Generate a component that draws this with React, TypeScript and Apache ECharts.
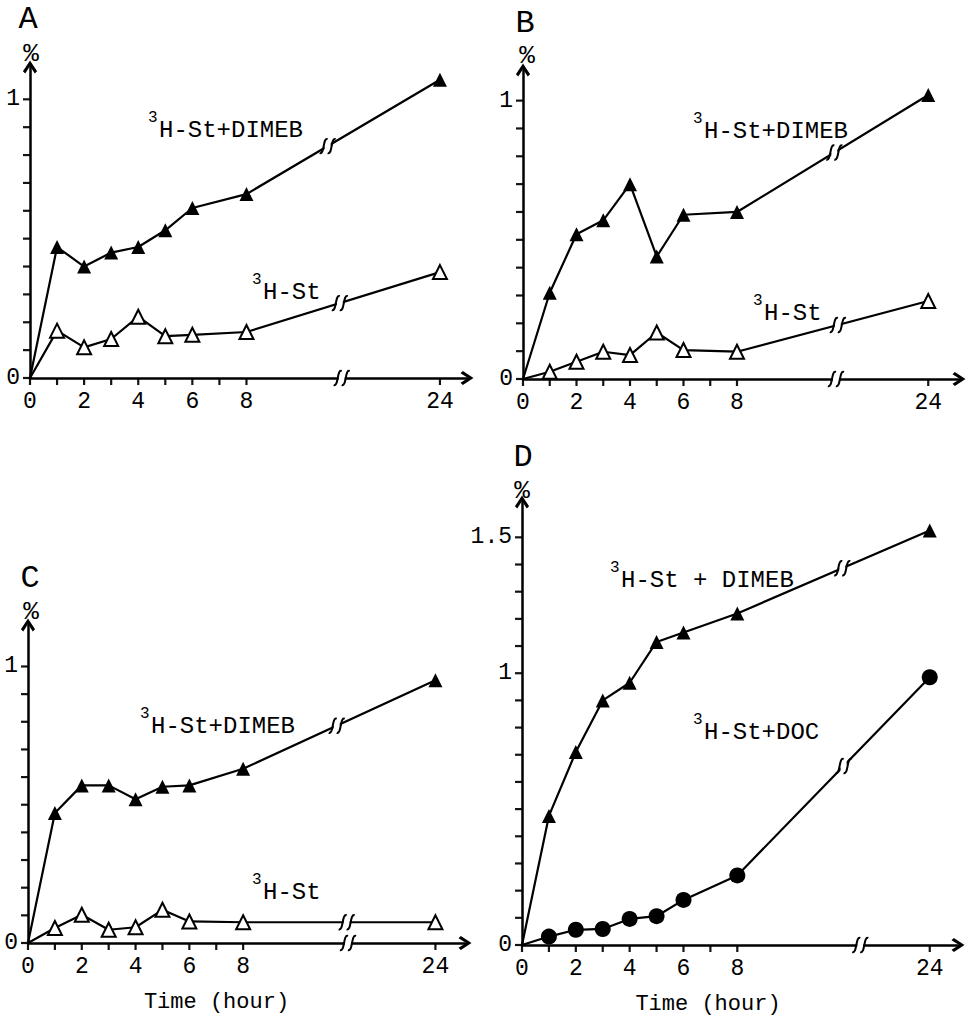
import React, { useEffect, useRef } from "react";
import * as echarts from "echarts";

// ---- data ----
const HOURS = [0, 1, 2, 3, 4, 5, 6, 8, 24];
const X_TICK_HOURS = [0, 1, 2, 3, 4, 5, 6, 7, 8, 24];
const X_LABEL_HOURS = [0, 2, 4, 6, 8, 24];
const Y_TICKS_1 = [0, 0.1, 0.2, 0.3, 0.4, 0.5, 0.6, 0.7, 0.8, 0.9, 1];
const Y_TICKS_15 = [0, 0.1, 0.2, 0.3, 0.4, 0.5, 0.6, 0.7, 0.8, 0.9, 1, 1.1, 1.2, 1.3, 1.4, 1.5];
const Y_LABELS_1 = [0, 1];
const Y_LABELS_15 = [0, 1, 1.5];

const A_DIMEB = [0, 0.47, 0.4, 0.45, 0.47, 0.53, 0.61, 0.66, 1.07];
const A_ST = [0, 0.17, 0.11, 0.14, 0.22, 0.15, 0.155, 0.165, 0.38];
const B_DIMEB = [0, 0.31, 0.52, 0.57, 0.7, 0.44, 0.59, 0.6, 1.02];
const B_ST = [0, 0.026, 0.062, 0.098, 0.086, 0.167, 0.104, 0.098, 0.28];
const C_DIMEB = [0, 0.47, 0.57, 0.57, 0.52, 0.565, 0.57, 0.63, 0.95];
const C_ST = [0, 0.054, 0.102, 0.048, 0.057, 0.12, 0.078, 0.075, 0.075];
const D_DIMEB = [0, 0.475, 0.71, 0.9, 0.965, 1.115, 1.15, 1.22, 1.525];
const D_DOC = [0, 0.031, 0.056, 0.059, 0.096, 0.106, 0.166, 0.256, 0.985];

// broken time axis: 0..8 h linear, 24 h placed after the break
const POS_24 = 15.15;
const hourPos = (h: number) => (h <= 8 ? h : POS_24);

const FONT = "'Liberation Mono', 'DejaVu Sans Mono', monospace";
const TICK_COLOR = "#141414";

type Marker = "filledTri" | "openTri" | "dot";
const MARKERS: Record<Marker, any> = {
  filledTri: { symbol: "triangle", symbolSize: 14, itemStyle: { color: "#000" } },
  openTri: { symbol: "triangle", symbolSize: 14, itemStyle: { color: "#fff", borderColor: "#000", borderWidth: 2 } },
  dot: { symbol: "circle", symbolSize: 16, itemStyle: { color: "#000" } },
};

const PANELS = [
  {
    letter: "A", letterPos: [28, 19], pctPos: [31, 54],
    grid: { left: 30, top: 67, width: 437, height: 311 },
    xMax: 16.15, yMax: 1.116, yTicks: Y_TICKS_1, yLabels: Y_LABELS_1, axisBreak: 11.52, timeTitle: false, namePad: 0,
    series: [
      { values: A_DIMEB, marker: "filledTri" as Marker, brk: 11.0, label: { x: 148, y: 130, text: "H-St+DIMEB" } },
      { values: A_ST, marker: "openTri" as Marker, brk: 11.45, label: { x: 252, y: 292, text: "H-St" } },
    ],
  },
  {
    letter: "B", letterPos: [525, 23], pctPos: [527, 56],
    grid: { left: 523, top: 70, width: 436, height: 309 },
    xMax: 16.3, yMax: 1.11, yTicks: Y_TICKS_1, yLabels: Y_LABELS_1, axisBreak: 11.7, timeTitle: false, namePad: 0,
    series: [
      { values: B_DIMEB, marker: "filledTri" as Marker, brk: 11.64, label: { x: 693, y: 131, text: "H-St+DIMEB" } },
      { values: B_ST, marker: "openTri" as Marker, brk: 11.77, label: { x: 753, y: 313, text: "H-St" } },
    ],
  },
  {
    letter: "C", letterPos: [30, 578], pctPos: [31, 612],
    grid: { left: 28, top: 625, width: 437, height: 318 },
    xMax: 16.25, yMax: 1.15, yTicks: Y_TICKS_1, yLabels: Y_LABELS_1, axisBreak: 11.9, timeTitle: true, namePad: 60,
    series: [
      { values: C_DIMEB, marker: "filledTri" as Marker, brk: 11.48, label: { x: 140, y: 726, text: "H-St+DIMEB" } },
      { values: C_ST, marker: "openTri" as Marker, brk: 11.85, label: { x: 252, y: 892, text: "H-St" } },
    ],
  },
  {
    letter: "D", letterPos: [523, 457], pctPos: [522, 491],
    grid: { left: 522, top: 502, width: 436, height: 443 },
    xMax: 16.2, yMax: 1.63, yTicks: Y_TICKS_15, yLabels: Y_LABELS_15, axisBreak: 12.57, timeTitle: true, namePad: 64,
    series: [
      { values: D_DIMEB, marker: "filledTri" as Marker, brk: 11.9, label: { x: 610, y: 580, text: "H-St + DIMEB" } },
      { values: D_DOC, marker: "dot" as Marker, brk: 11.95, label: { x: 693, y: 732, text: "H-St+DOC" } },
    ],
  },
];

const ARROW = "path://M6,0 L12,9 L10,11 L6,4.6 L2,11 L0,9 Z";

// "ʃʃ" break marks on the time axis and on the lines
function breakRender(params: any, api: any) {
  const p = api.coord([api.value(0), api.value(1)]);
  const cx = p[0];
  const cy = p[1];
  const stroke = (dx: number) => ({
    type: "bezierCurve",
    shape: {
      x1: cx + dx - 4, y1: cy + 7,
      cpx1: cx + dx + 1, cpy1: cy + 9,
      cpx2: cx + dx - 1, cpy2: cy - 9,
      x2: cx + dx + 4, y2: cy - 7,
    },
    style: { stroke: "#000", lineWidth: 2, fill: null },
  });
  return {
    type: "group",
    children: [
      { type: "rect", shape: { x: cx - 3, y: cy - 6, width: 6, height: 12 }, style: { fill: "#fff" } },
      stroke(-4),
      stroke(4),
    ],
  };
}

function buildOption() {
  const grid: any[] = [];
  const xAxis: any[] = [];
  const yAxis: any[] = [];
  const series: any[] = [];
  const graphic: any[] = [];

  PANELS.forEach((pn, gi) => {
    grid.push({ ...pn.grid, containLabel: false });
    xAxis.push({
      type: "value",
      gridIndex: gi,
      min: 0,
      max: pn.xMax,
      interval: 1,
      splitLine: { show: false },
      axisLine: { show: true, lineStyle: { color: "#000", width: 2.5 }, symbol: ["none", ARROW], symbolSize: [16, 13] },
      axisTick: { show: false },
      axisLabel: {
        show: true,
        customValues: X_LABEL_HOURS.map(hourPos),
        formatter: (v: number) => (v === POS_24 ? "24" : String(v)),
        color: "#000",
        fontFamily: FONT,
        fontSize: 23,
        margin: 12,
      },
      name: pn.timeTitle ? "Time (hour)" : "",
      nameLocation: "middle",
      nameGap: 48,
      nameTextStyle: { color: "#000", fontFamily: FONT, fontSize: 22, padding: [0, pn.namePad, 0, 0] },
    });
    yAxis.push({
      type: "value",
      gridIndex: gi,
      min: 0,
      max: pn.yMax,
      splitLine: { show: false },
      axisLine: { show: true, lineStyle: { color: "#000", width: 2.5 }, symbol: ["none", ARROW], symbolSize: [16, 13] },
      axisTick: { show: false },
      axisLabel: {
        show: true,
        customValues: pn.yLabels,
        formatter: (v: number) => (v === 1.5 ? "1.5" : String(v)),
        color: "#000",
        fontFamily: FONT,
        fontSize: 23,
        margin: 10,
      },
    });

    const breakData: number[][] = [[pn.axisBreak, 0]];
    pn.series.forEach((s) => {
      const m = MARKERS[s.marker];
      series.push({
        type: "line",
        name: "3" + s.label.text,
        xAxisIndex: gi,
        yAxisIndex: gi,
        symbol: m.symbol,
        symbolSize: m.symbolSize,
        itemStyle: m.itemStyle,
        lineStyle: { color: "#000", width: 2.2 },
        z: 2,
        data: HOURS.map((h, i) =>
          i === 0 ? { value: [hourPos(h), s.values[i]], symbol: "none" } : [hourPos(h), s.values[i]]
        ),
      });
      const v8 = s.values[7];
      const v24 = s.values[8];
      breakData.push([s.brk, v8 + ((v24 - v8) * (s.brk - 8)) / (POS_24 - 8)]);

      graphic.push({
        type: "text",
        x: s.label.x,
        y: s.label.y - 12,
        style: { text: "3", fontFamily: FONT, fontSize: 16, fill: "#000", align: "left", verticalAlign: "middle" },
      });
      graphic.push({
        type: "text",
        x: s.label.x + 11,
        y: s.label.y,
        style: { text: s.label.text, fontFamily: FONT, fontSize: 24, fill: "#000", align: "left", verticalAlign: "middle" },
      });
    });

    series.push({
      type: "custom",
      xAxisIndex: gi,
      yAxisIndex: gi,
      clip: false,
      z: 3,
      silent: true,
      encode: { x: 0, y: 1 },
      renderItem: breakRender,
      data: breakData,
    });

    graphic.push({
      type: "text",
      x: pn.letterPos[0],
      y: pn.letterPos[1],
      style: { text: pn.letter, fontFamily: FONT, fontSize: 32, fill: "#000", align: "center", verticalAlign: "middle" },
    });
    graphic.push({
      type: "text",
      x: pn.pctPos[0],
      y: pn.pctPos[1],
      style: { text: "%", fontFamily: FONT, fontSize: 26, fill: "#000", align: "center", verticalAlign: "middle" },
    });
  });

  return {
    animation: false,
    backgroundColor: "#fff",
    grid,
    xAxis,
    yAxis,
    series,
    graphic,
  };
}

export default function App() {
  const ref = useRef<HTMLDivElement>(null);
  useEffect(() => {
    const chart = echarts.init(ref.current!, null, { renderer: "svg" });
    const option: any = buildOption();
    chart.setOption(option);
    // axis ticks, positioned through each grid's own axis scales
    const ticks: any[] = [];
    PANELS.forEach((pn, gi) => {
      const finder: any = { xAxisIndex: gi, yAxisIndex: gi };
      X_TICK_HOURS.forEach((h) => {
        const p = chart.convertToPixel(finder, [hourPos(h), 0]) as any;
        if (p) {
          ticks.push({
            type: "rect",
            shape: { x: p[0] - 1.1, y: p[1], width: 2.2, height: 7 },
            style: { fill: TICK_COLOR },
          });
        }
      });
      pn.yTicks.forEach((v) => {
        const p = chart.convertToPixel(finder, [0, v]) as any;
        if (p) {
          ticks.push({
            type: "rect",
            shape: { x: p[0] - 7, y: p[1] - 1.1, width: 7, height: 2.2 },
            style: { fill: TICK_COLOR },
          });
        }
      });
    });
    chart.setOption({ graphic: [...option.graphic, ...ticks] });
    return () => chart.dispose();
  }, []);
  return (
    <div
      ref={ref}
      style={{ position: "absolute", left: 0, top: 0, width: 972, height: 1028, background: "#fff" }}
    />
  );
}
